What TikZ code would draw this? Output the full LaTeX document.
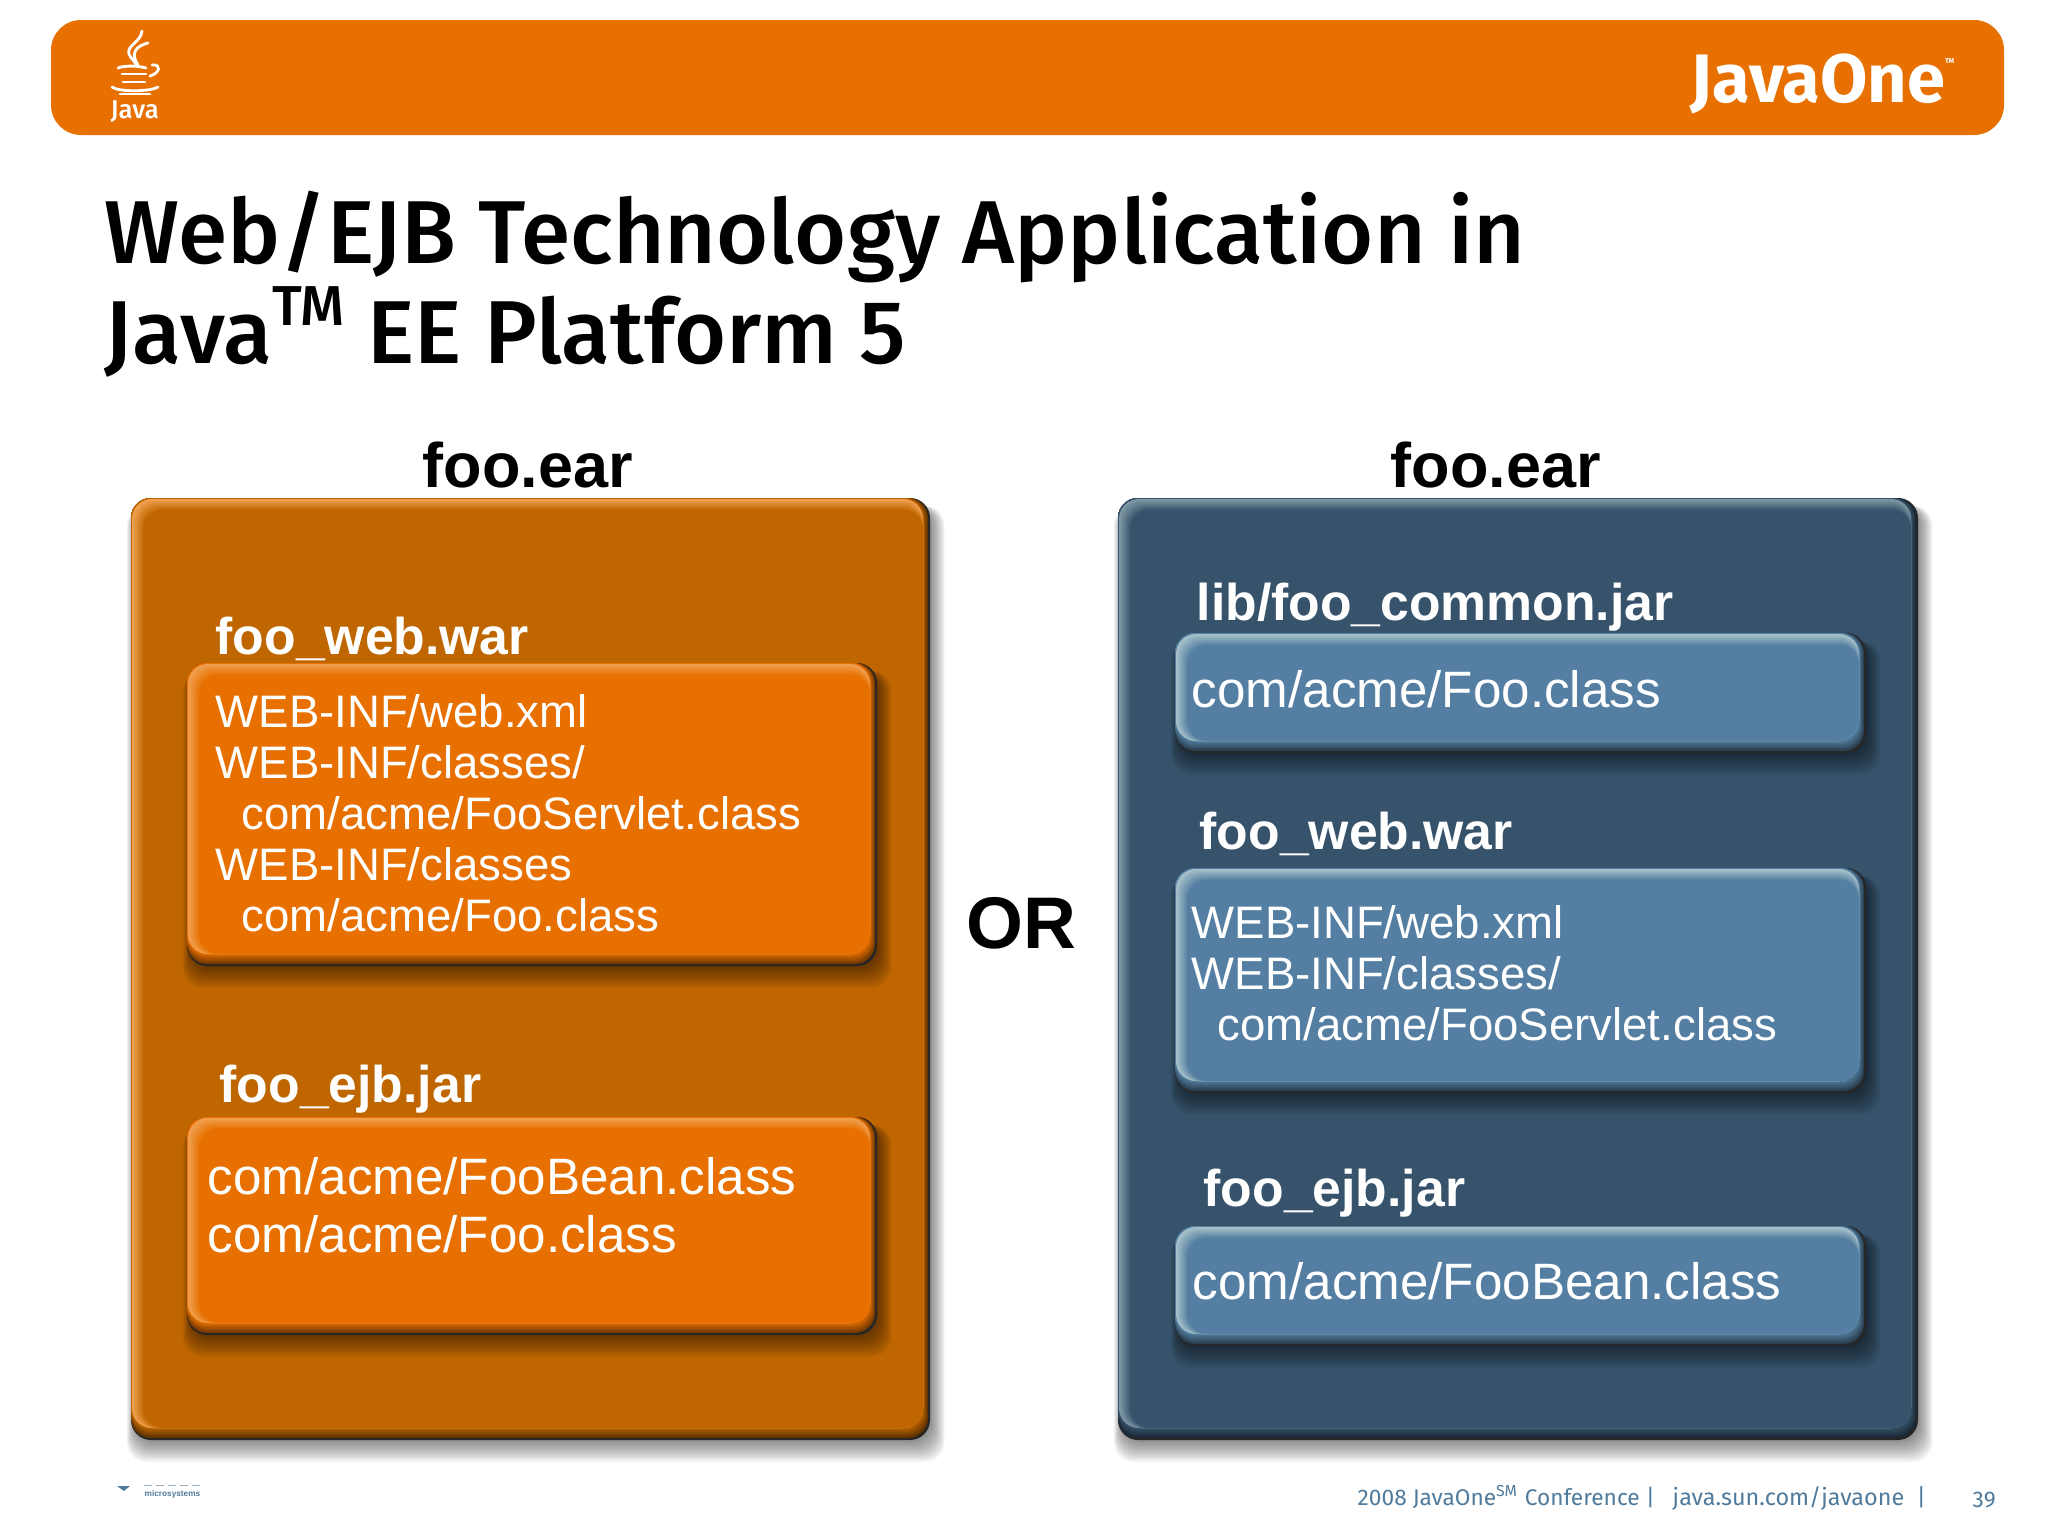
\documentclass[tikz,border=0pt]{standalone}
\usepackage{fontspec}
\setmainfont{Liberation Sans}
\newfontfamily\slidefont{Fira Sans}
\newfontfamily\titlefont[UprightFont=* Medium]{Fira Sans}
\definecolor{bannerorange}{HTML}{E87000}
\definecolor{panelorange}{HTML}{BF6600}
\definecolor{paneledge}{HTML}{F0A050}
\definecolor{panelblue}{HTML}{36536B}
\definecolor{bluedge}{HTML}{7F98A4}
\definecolor{innerblue}{HTML}{547FA2}
\definecolor{innerbluedge}{HTML}{A5C0C8}
\definecolor{footerblue}{HTML}{4F7A9B}

\begin{document}
\begin{tikzpicture}[x=0.01cm,y=-0.01cm,
    whitelabel/.style={inner sep=0pt,anchor=base west,text=white,align=left},
    barlabel/.style={whitelabel,font=\bfseries\fontsize{14.7}{17}\selectfont},
    earlabel/.style={inner sep=0pt,anchor=base west,font=\bfseries\fontsize{17.9}{21}\selectfont},
    listtext/.style={whitelabel,font=\fontsize{12.95}{14.5}\selectfont},
    classtext/.style={whitelabel,font=\fontsize{14.55}{16.4}\selectfont},
    footer/.style={inner sep=0pt,anchor=base west,text=footerblue,font=\slidefont\fontsize{6.45}{8}\selectfont},
    steam/.style={draw=white,line width=0.8pt,line cap=round}]

    % Page size
    \useasboundingbox (0,0) rectangle (2048,1536);

    % Raised box: x0, y0, x1, y1, face colour, edge colour
    \def\bevelbox#1#2#3#4#5#6{
        % Soft shadow
        \foreach \i in {1,...,9}
            \fill[black,opacity=0.06,rounded corners=0.2cm] ({#1+5-\i},{#2+8}) rectangle ({#3+1.6*\i},{#4+2.4*\i});
        % Dark lower right edge, then light upper left edge
        \fill[black!85,rounded corners=0.2cm] (#1,#2) rectangle (#3,#4);
        \foreach \i [evaluate=\i as \p using int(50+50*\i/7)] in {0,...,7}
            \fill[#5!\p!black,rounded corners=0.2cm] (#1,#2) rectangle ({#3-2-0.7*\i},{#4-2-1.4*\i});
        \foreach \i [evaluate=\i as \p using int(100*\i/7)] in {0,...,7}
            \fill[#5!\p!#6,rounded corners=0.2cm] ({#1+1+1.6*\i},{#2+1+1.5*\i}) rectangle ({#3-7},{#4-12});
    }

    % Banner
    \fill[bannerorange,rounded corners=0.3cm] (51,20) rectangle (2004,135);

    % Java cup
    \draw[steam] (142,31) .. controls (141,42) and (126,46) .. (129,54) .. controls (131,59) and (135,61) .. (136,65);
    \draw[steam] (148,43) .. controls (136,46) and (130,53) .. (138,65);
    \draw[steam] (118,68) .. controls (125,65) and (140,66) .. (146,68);
    \draw[steam] (152,65) .. controls (162,64) and (160,73) .. (150,76);
    \draw[steam] (122,74) -- (146,74);
    \draw[steam] (123,82) -- (145,82);
    \draw[steam] (112,87) .. controls (118,92) and (150,92) .. (158,87);
    \draw[steam] (120,94) -- (150,94);
    \node[whitelabel,font=\titlefont\fontsize{7.3}{8}\selectfont] (javacup) at (110,118) {Java};

    % JavaOne logo
    \node[whitelabel,font=\slidefont\bfseries\fontsize{19.5}{24}\selectfont] (javaone) at (1690,102) {JavaOne\raisebox{11pt}{\fontsize{2}{2}\selectfont TM}};

    % Title
    \node[inner sep=0pt,anchor=base west,align=left,font=\titlefont\fontsize{25.4}{26.4}\selectfont] (title) at (104,363)
        {Web/EJB Technology Application in\\Java\raisebox{0.42em}{\fontsize{16}{16}\selectfont TM} EE Platform 5};

    % Panels
    \bevelbox{131}{498}{930}{1440}{panelorange}{paneledge}
    \bevelbox{1118}{498}{1918}{1440}{panelblue}{bluedge}

    % Left panel boxes
    \bevelbox{187}{663}{877}{966}{bannerorange}{paneledge}
    \bevelbox{187}{1117}{877}{1335}{bannerorange}{paneledge}

    % Right panel boxes
    \bevelbox{1175}{633}{1866}{753}{innerblue}{innerbluedge}
    \bevelbox{1175}{868}{1866}{1093}{innerblue}{innerbluedge}
    \bevelbox{1175}{1226}{1866}{1346}{innerblue}{innerbluedge}

    % Panel names
    \node[earlabel] (leftear) at (422,487) {foo.ear};
    \node[earlabel] (rightear) at (1390,487) {foo.ear};
    \node[inner sep=0pt,anchor=base west,font=\bfseries\fontsize{20.8}{24}\selectfont] (ortext) at (966,948) {OR};

    % Left panel text
    \node[barlabel] (leftweb) at (215,654) {foo\_web.war};
    \node[barlabel] (leftejb) at (219,1102) {foo\_ejb.jar};
    \node[listtext] (leftlist) at (215,931)
        {WEB-INF/web.xml\\WEB-INF/classes/\\\hspace*{0.26cm}com/acme/FooServlet.class\\WEB-INF/classes\\\hspace*{0.26cm}com/acme/Foo.class};
    \node[classtext] (leftclass) at (207,1252) {com/acme/FooBean.class\\com/acme/Foo.class};

    % Right panel text
    \node[barlabel] (rightlib) at (1196,620) {lib/foo\_common.jar};
    \node[barlabel] (rightweb) at (1199,849) {foo\_web.war};
    \node[barlabel] (rightejb) at (1203,1206) {foo\_ejb.jar};
    \node[classtext] (rightfoo) at (1191,707) {com/acme/Foo.class};
    \node[listtext] (rightlist) at (1191,1040)
        {WEB-INF/web.xml\\WEB-INF/classes/\\\hspace*{0.26cm}com/acme/FooServlet.class};
    \node[classtext] (rightbean) at (1192,1299) {com/acme/FooBean.class};

    % Sun logo
    \fill[footerblue] (117,1486) -- (130,1486) -- (124,1491) -- cycle;
    \foreach \x in {144,156,168,180,192}
        \fill[footerblue!60] (\x,1484.5) rectangle ({\x+8},1486);
    \node[inner sep=0pt,anchor=base west,text=footerblue,font=\bfseries\fontsize{2.35}{3}\selectfont] (sunname) at (144,1496) {microsystems};

    % Footer
    \node[footer] (confname) at (1357,1505) {2008 JavaOne\textsuperscript{SM} Conference |};
    \node[footer,font=\slidefont\fontsize{6.65}{8}\selectfont] (confurl) at (1672,1505) {java.sun.com/javaone \ |};
    \node[footer] (pagenum) at (1972,1507) {39};

\end{tikzpicture}
\end{document}
